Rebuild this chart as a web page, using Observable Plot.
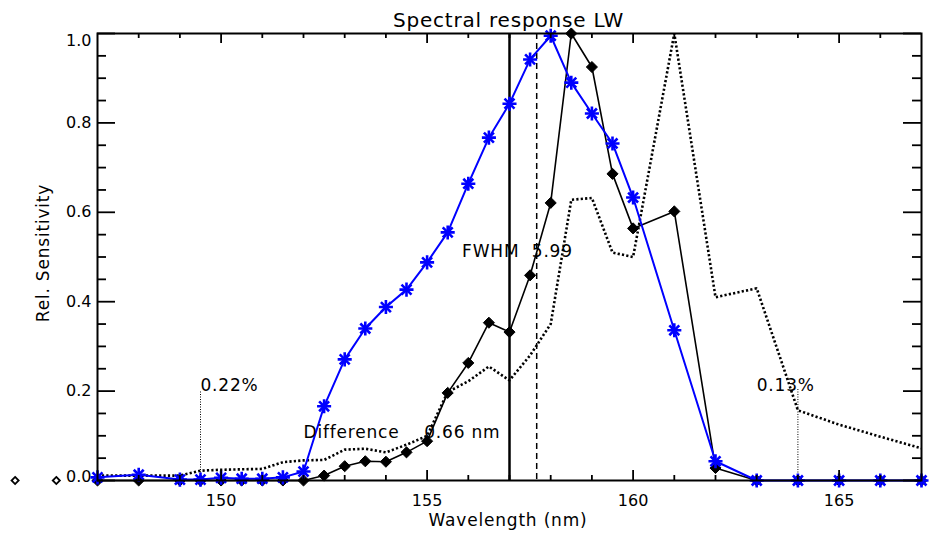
<!DOCTYPE html>
<html>
<head>
<meta charset="utf-8">
<script src="https://cdn.jsdelivr.net/npm/d3@7"></script>
<script src="https://cdn.jsdelivr.net/npm/@observablehq/plot@0.6"></script>
<style>
  html, body { margin: 0; padding: 0; background: white; }
  #chart svg g[aria-label="text"] text { letter-spacing: 0.8px; }
</style>
</head>
<body>
<div id="chart"></div>
<script>
// ---- data ----
const wavelengths = [147,148,149,149.5,150,150.5,151,151.5,152,152.5,153,153.5,154,154.5,155,155.5,156,156.5,157,157.5,158,158.5,159,159.5,160,161,162,163,164,165,166,167];
const measured = [0,0,0,0,0,0,0,0,0,0.011,0.032,0.043,0.042,0.063,0.088,0.196,0.263,0.353,0.332,0.459,0.621,1.0,0.925,0.686,0.564,0.602,0.028,0,0,0,0,0];
const model = [0.007,0.013,0.002,0.002,0.006,0.004,0.004,0.007,0.02,0.166,0.271,0.34,0.388,0.427,0.488,0.555,0.664,0.767,0.843,0.942,0.995,0.89,0.821,0.754,0.633,0.336,0.043,0,0,0,0,0];
const outsideWl = [145,146];
const outsideVal = [0,0];
const diffWl = [147,148,149,149.5,150,150.5,151,151.5,152,152.5,153,153.5,154,154.5,155,155.5,156,156.5,157,157.5,158,158.5,159,159.5,160,161,162,163,164,165,166,167];
const diffVal = [0.011,0.011,0.011,0.022,0.024,0.025,0.026,0.041,0.045,0.046,0.069,0.071,0.063,0.08,0.1,0.198,0.222,0.255,0.224,0.28,0.35,0.628,0.632,0.51,0.5,1.0,0.41,0.43,0.157,0.125,0.098,0.072];
const centerMeasured = 157;
const centerModel = 157.66;
const oobWl = [149.5,164];
const oobTop = [0.2,0.205];
const oobLabels = ["0.22%","0.13%"];
const oobLabelWl = [149.5,163];
const oobLabelY = [0.2,0.2];
const fwhmLabel = "FWHM  5.99";
const diffLabel = "Difference    0.66 nm";
const xMajor = [150,155,160,165];
const xMinor = [148,149,151,152,153,154,156,157,158,159,161,162,163,164,166];
const yMajor = [0,0.2,0.4,0.6,0.8,1.0];
const yMinor = [0.05,0.1,0.15,0.25,0.3,0.35,0.45,0.5,0.55,0.65,0.7,0.75,0.85,0.9,0.95];
const titleText = "Spectral response LW";
const xLabel = "Wavelength (nm)";
const yLabel = "Rel. Sensitivity";

// ---- tables ----
const blackData = wavelengths.map((w,i)=>({w, v: measured[i]}));
const blueData = wavelengths.map((w,i)=>({w, v: model[i]}));
const outsideData = outsideWl.map((w,i)=>({w, v: outsideVal[i]}));
const diffData = diffWl.map((w,i)=>({w, v: diffVal[i]}));
const oobData = oobWl.map((w,i)=>({w, top: oobTop[i]}));
const oobLab = oobLabels.map((t,i)=>({t, w: oobLabelWl[i], v: oobLabelY[i]}));

const W = 932, H = 533, mL = 97, mR = 11, mT = 33, mB = 53;
const fw = W - mL - mR, fh = H - mT - mB;
const nbsp = s => s.replace(/ /g, "\u00a0");
const yFmt = d3.format(".1f");
const yMid = yMajor.filter(d => d > 0 && d < 1);

const chart = Plot.plot({
  width: W, height: H,
  marginLeft: mL, marginRight: mR, marginTop: mT, marginBottom: mB,
  style: {fontFamily: "DejaVu Sans", fontSize: "16px", background: "white", color: "black"},
  x: {domain: [147, 167]},
  y: {domain: [0, 1]},
  marks: [
    // difference curve (thick dotted)
    Plot.line(diffData, {x: "w", y: "v", stroke: "black", strokeWidth: 2.6, strokeDasharray: "2.2,2.2", strokeLinecap: "butt", strokeLinejoin: "miter"}),
    // out-of-band markers
    Plot.ruleX(oobData, {x: "w", y1: 0, y2: "top", stroke: "black", strokeWidth: 1, strokeDasharray: "1,1.5"}),
    Plot.text(oobLab, {x: "w", y: "v", text: "t", textAnchor: "start", lineAnchor: "bottom", fontSize: 17}),
    // center lines
    Plot.ruleX([centerMeasured], {stroke: "black", strokeWidth: 2.5}),
    Plot.ruleX([centerModel], {stroke: "black", strokeWidth: 1.5, strokeDasharray: "6,4"}),
    // measured (black diamonds)
    Plot.line(blackData, {x: "w", y: "v", stroke: "black", strokeWidth: 1.6}),
    Plot.dot(blackData, {x: "w", y: "v", symbol: "diamond2", r: 5, fill: "black", stroke: "black", strokeWidth: 1}),
    Plot.dot(outsideData, {x: "w", y: "v", symbol: "diamond2", r: 3.2, fill: "white", stroke: "black", strokeWidth: 1.8}),
    // model (blue asterisks)
    Plot.line(blueData, {x: "w", y: "v", stroke: "#0000ff", strokeWidth: 2}),
    Plot.dot(blueData, {x: "w", y: "v", symbol: "plus", r: 4.6, stroke: "#0000ff", strokeWidth: 2.6}),
    Plot.dot(blueData, {x: "w", y: "v", symbol: "times", r: 4.6, stroke: "#0000ff", strokeWidth: 2.6}),
    // annotations
    Plot.text([fwhmLabel], {x: 155.85, y: 0.5, text: d => nbsp(d), textAnchor: "start", lineAnchor: "bottom", fontSize: 17}),
    Plot.text([diffLabel], {x: 152.0, y: 0.096, text: d => nbsp(d), textAnchor: "start", lineAnchor: "bottom", fontSize: 17}),
    // frame and ticks
    Plot.frame({stroke: "black", strokeWidth: 2}),
    Plot.ruleX(xMajor, {insetTop: fh - 10, stroke: "black", strokeWidth: 1.8}),
    Plot.ruleX(xMajor, {insetBottom: fh - 10, stroke: "black", strokeWidth: 1.8}),
    Plot.ruleX(xMinor, {insetTop: fh - 5, stroke: "black", strokeWidth: 1.8}),
    Plot.ruleX(xMinor, {insetBottom: fh - 5, stroke: "black", strokeWidth: 1.8}),
    Plot.ruleY(yMajor, {insetRight: fw - 18, stroke: "black", strokeWidth: 1.8}),
    Plot.ruleY(yMajor, {insetLeft: fw - 18, stroke: "black", strokeWidth: 1.8}),
    Plot.ruleY(yMinor, {insetRight: fw - 9, stroke: "black", strokeWidth: 1.8}),
    Plot.ruleY(yMinor, {insetLeft: fw - 9, stroke: "black", strokeWidth: 1.8}),
    Plot.axisX({anchor: "bottom", ticks: xMajor, tickSize: 0, tickPadding: 14, label: null, tickFormat: d => String(d), fontSize: 16}),
    Plot.axisY({anchor: "left", ticks: yMid, tickSize: 0, tickPadding: 6, label: null, tickFormat: yFmt, fontSize: 16}),
    Plot.axisY({anchor: "left", ticks: [1], tickSize: 0, tickPadding: 6, label: null, tickFormat: yFmt, fontSize: 16, dy: 7}),
    Plot.axisY({anchor: "left", ticks: [0], tickSize: 0, tickPadding: 6, label: null, tickFormat: yFmt, fontSize: 16, dy: -4}),
    // titles
    Plot.text([titleText], {frameAnchor: "top", textAnchor: "middle", lineAnchor: "bottom", dx: -1, dy: -7, text: d => d, fontSize: 20}),
    Plot.text([xLabel], {frameAnchor: "bottom", textAnchor: "middle", lineAnchor: "bottom", dx: -1.5, dy: 45, text: d => d, fontSize: 17}),
    Plot.text([yLabel], {frameAnchor: "left", textAnchor: "middle", lineAnchor: "middle", dx: -54, dy: -4, rotate: -90, text: d => d, fontSize: 17})
  ]
});
document.getElementById("chart").appendChild(chart);
</script>
</body>
</html>
